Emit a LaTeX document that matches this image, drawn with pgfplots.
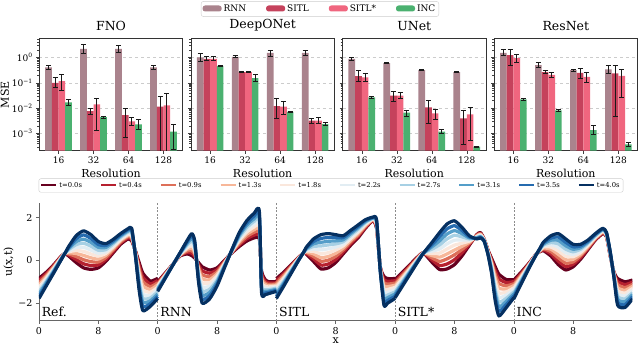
\documentclass[border=0pt]{standalone}
\usepackage{pgfplots}
\pgfplotsset{compat=1.18}
\usepackage{pgfplotstable}
\usepackage{fontspec}
\setmainfont{DejaVu Serif}

\definecolor{cR}{RGB}{170,131,141}
\definecolor{cS}{RGB}{197,66,92}
\definecolor{cP}{RGB}{240,102,127}
\definecolor{cI}{RGB}{75,177,112}
\definecolor{t0}{RGB}{103,0,31}
\definecolor{t1}{RGB}{182,32,47}
\definecolor{t2}{RGB}{221,111,89}
\definecolor{t3}{RGB}{247,183,153}
\definecolor{t4}{RGB}{250,231,220}
\definecolor{t5}{RGB}{226,237,243}
\definecolor{t6}{RGB}{167,208,228}
\definecolor{t7}{RGB}{84,158,201}
\definecolor{t8}{RGB}{37,107,175}
\definecolor{t9}{RGB}{5,48,97}

% MSE bars: value, lower and upper end of the error bar
\pgfplotstableread{
x r rl rh s sl sh p pl ph i il ih
0 0.41 0.346 0.50 0.10 0.0657 0.158 0.117 0.0516 0.213 0.017 0.0132 0.0228
1 2.2 1.43 3.24 0.0077 0.00586 0.0098 0.014 0.00137 0.0243 0.0044 0.00384 0.00489
2 2.2 1.52 3.05 0.0053 0.00071 0.0095 0.003 0.00203 0.0042 0.0023 0.0015 0.00361
3 0.41 0.346 0.50 0.0115 0.00001 0.030 0.013 0.00001 0.037 0.0012 0.000245 0.00223
}\fno
\pgfplotstableread{
x r rl rh s sl sh p pl ph i il ih
0 1.0 0.673 1.43 0.88 0.736 1.06 0.88 0.736 1.06 0.468 0.44 0.50
1 1.06 0.98 1.15 0.264 0.25 0.28 0.264 0.25 0.28 0.153 0.11 0.213
2 1.52 1.12 1.94 0.0121 0.00396 0.0243 0.0114 0.00569 0.019 0.0072 0.0069 0.0075
3 1.52 1.15 1.94 0.0032 0.00251 0.00396 0.0032 0.0025 0.0041 0.00234 0.00203 0.00267
}\deeponet
\pgfplotstableread{
x r rl rh s sl sh p pl ph i il ih
0 0.88 0.78 1.0 0.184 0.11 0.298 0.163 0.11 0.234 0.0265 0.025 0.028
1 0.597 0.58 0.615 0.0309 0.019 0.0471 0.0309 0.0235 0.0405 0.0066 0.00489 0.0084
2 0.316 0.305 0.327 0.0107 0.0025 0.0195 0.00622 0.00361 0.00923 0.00118 0.00096 0.00146
3 0.264 0.255 0.273 0.00396 0.000375 0.0079 0.00569 0.000522 0.0104 0.000303 0.00029 0.00032
}\unet
\pgfplotstableread{
x r rl rh s sl sh p pl ph i il ih
0 1.52 1.2 2.06 1.23 0.50 2.06 0.94 0.615 1.35 0.0221 0.0195 0.025
1 0.50 0.403 0.634 0.264 0.234 0.298 0.207 0.163 0.264 0.00817 0.0077 0.0087
2 0.316 0.29 0.345 0.248 0.149 0.368 0.173 0.103 0.256 0.00137 0.00092 0.00203
3 0.336 0.234 0.5 0.234 0.00489 0.5 0.189 0.0265 0.346 0.000375 0.000303 0.000449
}\resnet

% u(x,t) snapshots, panels side by side (Ref, RNN, SITL, SITL*, INC)
\pgfplotstableread{
x a0 a1 a2 a3 a4 a5 a6 a7 a8 a9
0 -0.84 -0.94 -1.05 -1.15 -1.26 -1.36 -1.47 -1.57 -1.68 -1.78
1 -0.55 -0.62 -0.69 -0.76 -0.83 -0.90 -0.97 -1.04 -1.11 -1.18
2 -0.20 -0.24 -0.28 -0.33 -0.37 -0.41 -0.45 -0.50 -0.54 -0.58
3 0.20 0.18 0.16 0.14 0.12 0.11 0.09 0.07 0.05 0.03
3.5 0.32 0.32 0.32 0.32 0.32 0.33 0.33 0.33 0.33 0.33
4 0.20 0.25 0.30 0.35 0.40 0.45 0.50 0.55 0.60 0.65
5 -0.10 0.04 0.18 0.32 0.46 0.59 0.73 0.87 1.01 1.15
6 -0.35 -0.16 0.03 0.23 0.42 0.61 0.80 0.99 1.19 1.38
7 -0.42 -0.24 -0.06 0.12 0.30 0.48 0.66 0.84 1.02 1.20
8 -0.35 -0.21 -0.08 0.06 0.20 0.33 0.47 0.61 0.74 0.88
9 -0.05 0.04 0.13 0.23 0.32 0.41 0.50 0.60 0.69 0.78
10 0.35 0.42 0.49 0.56 0.63 0.70 0.77 0.84 0.91 0.98
11 0.75 0.81 0.86 0.92 0.97 1.03 1.08 1.14 1.19 1.25
12 1.00 1.05 1.11 1.16 1.21 1.27 1.32 1.37 1.43 1.48
12.5 0.90 0.97 1.03 1.10 1.17 1.23 1.30 1.37 1.43 1.50
13 0.45 0.42 0.39 0.37 0.34 0.31 0.28 0.26 0.23 0.20
13.5 -0.10 -0.24 -0.39 -0.53 -0.68 -0.82 -0.97 -1.11 -1.26 -1.40
14 -0.60 -0.79 -0.99 -1.18 -1.38 -1.57 -1.77 -1.96 -2.16 -2.35
15 -0.97 -1.10 -1.23 -1.36 -1.49 -1.63 -1.76 -1.89 -2.02 -2.15
16 -0.84 -0.94 -1.05 -1.15 -1.26 -1.36 -1.47 -1.57 -1.68 -1.78
nan nan nan nan nan nan nan nan nan nan nan
16 -1.00 -1.05 -1.10 -1.15 -1.20 -1.25 -1.30 -1.35 -1.40 -1.45
17 -0.60 -0.63 -0.66 -0.68 -0.71 -0.74 -0.77 -0.79 -0.82 -0.85
18 -0.20 -0.21 -0.21 -0.22 -0.22 -0.23 -0.23 -0.24 -0.24 -0.25
19 0.20 0.22 0.23 0.25 0.27 0.28 0.30 0.32 0.33 0.35
20 0.30 0.37 0.44 0.52 0.59 0.66 0.73 0.81 0.88 0.95
20.6 0.22 0.33 0.45 0.56 0.68 0.79 0.91 1.02 1.14 1.25
21 0.10 0.19 0.28 0.37 0.46 0.54 0.63 0.72 0.81 0.90
21.5 -0.10 -0.20 -0.30 -0.40 -0.50 -0.60 -0.70 -0.80 -0.90 -1.00
22 -0.30 -0.49 -0.68 -0.87 -1.06 -1.24 -1.43 -1.62 -1.81 -2.00
23 -0.45 -0.60 -0.75 -0.90 -1.05 -1.20 -1.35 -1.50 -1.65 -1.80
24 -0.35 -0.44 -0.54 -0.63 -0.73 -0.82 -0.92 -1.01 -1.11 -1.20
25 0.00 -0.04 -0.08 -0.12 -0.16 -0.19 -0.23 -0.27 -0.31 -0.35
26 0.35 0.37 0.38 0.40 0.42 0.43 0.45 0.47 0.48 0.50
27 0.65 0.72 0.79 0.87 0.94 1.01 1.08 1.16 1.23 1.30
28 0.90 1.01 1.11 1.22 1.32 1.43 1.53 1.64 1.74 1.85
29 1.05 1.18 1.31 1.43 1.56 1.69 1.82 1.94 2.07 2.20
29.7 1.00 1.14 1.29 1.43 1.58 1.72 1.87 2.01 2.16 2.30
30 -0.50 -0.61 -0.72 -0.83 -0.94 -1.06 -1.17 -1.28 -1.39 -1.50
30.5 -0.90 -0.98 -1.06 -1.13 -1.21 -1.29 -1.37 -1.44 -1.52 -1.60
31 -1.00 -1.06 -1.12 -1.18 -1.24 -1.31 -1.37 -1.43 -1.49 -1.55
32 -1.00 -1.05 -1.10 -1.15 -1.20 -1.25 -1.30 -1.35 -1.40 -1.45
nan nan nan nan nan nan nan nan nan nan nan
32 -0.85 -0.95 -1.06 -1.16 -1.26 -1.37 -1.47 -1.57 -1.68 -1.78
33 -0.55 -0.62 -0.69 -0.77 -0.84 -0.91 -0.98 -1.06 -1.13 -1.20
34 -0.20 -0.24 -0.29 -0.33 -0.38 -0.42 -0.47 -0.51 -0.56 -0.60
35 0.15 0.13 0.12 0.10 0.08 0.07 0.05 0.03 0.02 0.00
35.7 0.35 0.36 0.36 0.37 0.37 0.38 0.38 0.39 0.39 0.40
36 0.30 0.33 0.37 0.40 0.43 0.47 0.50 0.53 0.57 0.60
37 -0.05 0.07 0.18 0.30 0.42 0.53 0.65 0.77 0.88 1.00
38 -0.40 -0.22 -0.04 0.13 0.31 0.49 0.67 0.84 1.02 1.20
39 -0.35 -0.17 0.01 0.18 0.36 0.54 0.72 0.89 1.07 1.25
40 -0.10 0.04 0.19 0.33 0.48 0.62 0.77 0.91 1.06 1.20
41 0.30 0.39 0.49 0.58 0.68 0.77 0.87 0.96 1.06 1.15
42 0.70 0.78 0.86 0.93 1.01 1.09 1.17 1.24 1.32 1.40
43 1.05 1.12 1.18 1.25 1.32 1.38 1.45 1.52 1.58 1.65
44 1.50 1.54 1.59 1.63 1.68 1.72 1.77 1.81 1.86 1.90
45 1.85 1.87 1.89 1.91 1.93 1.94 1.96 1.98 2.00 2.02
45.5 1.50 1.54 1.59 1.63 1.68 1.72 1.77 1.81 1.86 1.90
46 -0.30 -0.32 -0.34 -0.37 -0.39 -0.41 -0.43 -0.46 -0.48 -0.50
46.5 -0.75 -0.90 -1.05 -1.20 -1.35 -1.50 -1.65 -1.80 -1.95 -2.10
47 -0.85 -0.98 -1.11 -1.23 -1.36 -1.49 -1.62 -1.74 -1.87 -2.00
48 -0.85 -0.95 -1.06 -1.16 -1.26 -1.37 -1.47 -1.57 -1.68 -1.78
nan nan nan nan nan nan nan nan nan nan nan
48 -0.90 -0.99 -1.09 -1.18 -1.28 -1.37 -1.47 -1.56 -1.66 -1.75
49 -0.55 -0.62 -0.69 -0.77 -0.84 -0.91 -0.98 -1.06 -1.13 -1.20
50 -0.20 -0.25 -0.30 -0.35 -0.40 -0.45 -0.50 -0.55 -0.60 -0.65
51 0.15 0.12 0.09 0.07 0.04 0.01 -0.02 -0.04 -0.07 -0.10
51.8 0.35 0.35 0.35 0.34 0.34 0.34 0.34 0.33 0.33 0.33
53 -0.10 0.01 0.11 0.22 0.32 0.43 0.53 0.64 0.74 0.85
54 -0.43 -0.24 -0.05 0.15 0.34 0.53 0.72 0.91 1.11 1.30
55 -0.40 -0.17 0.07 0.30 0.53 0.77 1.00 1.23 1.47 1.70
56 -0.20 0.03 0.26 0.48 0.71 0.94 1.17 1.39 1.62 1.85
57 0.20 0.35 0.50 0.65 0.80 0.95 1.10 1.25 1.40 1.55
58 0.70 0.75 0.80 0.85 0.90 0.95 1.00 1.05 1.10 1.15
59 1.20 1.18 1.16 1.13 1.11 1.09 1.07 1.04 1.02 1.00
59.5 1.30 1.27 1.24 1.22 1.19 1.16 1.13 1.11 1.08 1.05
60 1.00 0.99 0.98 0.97 0.96 0.94 0.93 0.92 0.91 0.90
60.5 0.50 0.48 0.46 0.43 0.41 0.39 0.37 0.34 0.32 0.30
61 0.10 0.02 -0.06 -0.13 -0.21 -0.29 -0.37 -0.44 -0.52 -0.60
61.5 -0.30 -0.48 -0.66 -0.83 -1.01 -1.19 -1.37 -1.54 -1.72 -1.90
62 -0.65 -0.87 -1.08 -1.30 -1.52 -1.73 -1.95 -2.17 -2.38 -2.60
63 -0.90 -1.04 -1.19 -1.33 -1.48 -1.62 -1.77 -1.91 -2.06 -2.20
64 -0.90 -0.99 -1.09 -1.18 -1.28 -1.37 -1.47 -1.56 -1.66 -1.75
nan nan nan nan nan nan nan nan nan nan nan
64 -0.92 -1.02 -1.12 -1.21 -1.31 -1.41 -1.51 -1.60 -1.70 -1.80
65 -0.55 -0.61 -0.67 -0.73 -0.79 -0.86 -0.92 -0.98 -1.04 -1.10
66 -0.15 -0.18 -0.21 -0.23 -0.26 -0.29 -0.32 -0.34 -0.37 -0.40
67 0.28 0.28 0.27 0.27 0.27 0.26 0.26 0.26 0.25 0.25
67.5 0.40 0.42 0.43 0.45 0.47 0.48 0.50 0.52 0.53 0.55
68 0.45 0.49 0.54 0.58 0.63 0.67 0.72 0.76 0.81 0.85
69 0.20 0.31 0.41 0.52 0.62 0.73 0.83 0.94 1.04 1.15
70 -0.20 -0.04 0.12 0.28 0.44 0.61 0.77 0.93 1.09 1.25
71 -0.45 -0.29 -0.13 0.03 0.19 0.36 0.52 0.68 0.84 1.00
72 -0.30 -0.18 -0.07 0.05 0.17 0.28 0.40 0.52 0.63 0.75
73 0.05 0.13 0.21 0.28 0.36 0.44 0.52 0.59 0.67 0.75
74 0.50 0.55 0.60 0.65 0.70 0.75 0.80 0.85 0.90 0.95
75 0.95 0.98 1.02 1.05 1.08 1.12 1.15 1.18 1.22 1.25
76 1.25 1.28 1.31 1.33 1.36 1.39 1.42 1.44 1.47 1.50
76.5 1.10 1.12 1.14 1.17 1.19 1.21 1.23 1.26 1.28 1.30
77 0.20 0.22 0.24 0.27 0.29 0.31 0.33 0.36 0.38 0.40
77.5 -0.55 -0.58 -0.61 -0.63 -0.66 -0.69 -0.72 -0.74 -0.77 -0.80
78 -0.85 -0.99 -1.13 -1.27 -1.41 -1.54 -1.68 -1.82 -1.96 -2.10
79 -1.00 -1.13 -1.27 -1.40 -1.53 -1.67 -1.80 -1.93 -2.07 -2.20
80 -0.92 -1.02 -1.12 -1.21 -1.31 -1.41 -1.51 -1.60 -1.70 -1.80
}\sol

\newcommand{\barplots}[1]{%
  \addplot[fill=cR, draw=none, bar shift=-0.285, legend image code/.code={\fill[cR] (0pt,-2.5pt) rectangle (19pt,3.5pt);}] table[x=x,y=r,y error plus expr=\thisrow{rh}-\thisrow{r},y error minus expr=\thisrow{r}-\thisrow{rl}] {#1};
  \addplot[fill=cS, draw=none, bar shift=-0.095, legend image code/.code={\fill[cS] (0pt,-2.5pt) rectangle (19pt,3.5pt);}] table[x=x,y=s,y error plus expr=\thisrow{sh}-\thisrow{s},y error minus expr=\thisrow{s}-\thisrow{sl}] {#1};
  \addplot[fill=cP, draw=none, bar shift=0.095, legend image code/.code={\fill[cP] (0pt,-2.5pt) rectangle (19pt,3.5pt);}] table[x=x,y=p,y error plus expr=\thisrow{ph}-\thisrow{p},y error minus expr=\thisrow{p}-\thisrow{pl}] {#1};
  \addplot[fill=cI, draw=none, bar shift=0.285, legend image code/.code={\fill[cI] (0pt,-2.5pt) rectangle (19pt,3.5pt);}] table[x=x,y=i,y error plus expr=\thisrow{ih}-\thisrow{i},y error minus expr=\thisrow{i}-\thisrow{il}] {#1};
}

\begin{document}
\begin{tikzpicture}
\useasboundingbox (0,0) rectangle (640pt,346pt);

% ---------- FNO ----------
\begin{axis}[at={(39.3pt,195.3pt)}, anchor=south west, width=143.5pt, height=112.2pt, scale only axis,
    ymode=log, ymin=2.1e-4, ymax=5.6, log origin=infty,
    xmin=-0.55, xmax=3.55, xtick={0,1,2,3}, xticklabels={16,32,64,128},
    ytick={1e-3,1e-2,1e-1,1},
    minor ytick={3e-4,4e-4,5e-4,6e-4,7e-4,8e-4,9e-4,2e-3,3e-3,4e-3,5e-3,6e-3,7e-3,8e-3,9e-3,2e-2,3e-2,4e-2,5e-2,6e-2,7e-2,8e-2,9e-2,0.2,0.3,0.4,0.5,0.6,0.7,0.8,0.9,2,3,4,5},
    ybar, bar width=0.19,
    ymajorgrids, major grid style={dashed, black!20, line width=0.5pt},
    tick pos=left, tick align=outside, major tick length=3pt, minor tick length=1.8pt,
    tick style={black!75, line width=0.5pt},
    axis line style={black!80, line width=0.7pt},
    tick label style={font=\fontsize{9}{10}\selectfont},
    label style={font=\fontsize{11}{12}\selectfont},
    title style={font=\fontsize{12.5}{14}\selectfont, yshift=-2pt},
    xlabel={Resolution}, xlabel style={yshift=2pt},
    error bars/y dir=both, error bars/y explicit,
    error bars/error bar style={black!90, line width=1pt},
    error bars/error mark options={black!90, line width=1pt, mark size=2.5pt, rotate=90},
    title={FNO}, ylabel={MSE}, ylabel style={yshift=-4pt},
    yticklabels={10\textsuperscript{−3},10\textsuperscript{−2},10\textsuperscript{−1},10\textsuperscript{0}},
    legend entries={RNN,SITL,SITL*,INC},
    legend style={at={(1.956,1.263)}, anchor=center, legend columns=4,
      draw=black!20, rounded corners=2.5pt, font=\fontsize{9}{10}\selectfont,
      inner sep=1.5pt, /tikz/every even column/.append style={column sep=18pt}}]
\barplots{\fno}
\end{axis}

% ---------- DeepONet ----------
\begin{axis}[at={(190.9pt,195.3pt)}, anchor=south west, width=143.5pt, height=112.2pt, scale only axis,
    ymode=log, ymin=2.1e-4, ymax=5.6, log origin=infty,
    xmin=-0.55, xmax=3.55, xtick={0,1,2,3}, xticklabels={16,32,64,128},
    ytick={1e-3,1e-2,1e-1,1}, yticklabels={},
    minor ytick={3e-4,4e-4,5e-4,6e-4,7e-4,8e-4,9e-4,2e-3,3e-3,4e-3,5e-3,6e-3,7e-3,8e-3,9e-3,2e-2,3e-2,4e-2,5e-2,6e-2,7e-2,8e-2,9e-2,0.2,0.3,0.4,0.5,0.6,0.7,0.8,0.9,2,3,4,5},
    ybar, bar width=0.19,
    ymajorgrids, major grid style={dashed, black!20, line width=0.5pt},
    tick pos=left, tick align=outside, major tick length=3pt, minor tick length=1.8pt,
    tick style={black!75, line width=0.5pt},
    axis line style={black!80, line width=0.7pt},
    tick label style={font=\fontsize{9}{10}\selectfont},
    label style={font=\fontsize{11}{12}\selectfont},
    title style={font=\fontsize{12.5}{14}\selectfont, yshift=-2pt},
    xlabel={Resolution}, xlabel style={yshift=2pt},
    error bars/y dir=both, error bars/y explicit,
    error bars/error bar style={black!90, line width=1pt},
    error bars/error mark options={black!90, line width=1pt, mark size=2.5pt, rotate=90},
    title={DeepONet}]
\barplots{\deeponet}
\end{axis}

% ---------- UNet ----------
\begin{axis}[at={(342.5pt,195.3pt)}, anchor=south west, width=143.5pt, height=112.2pt, scale only axis,
    ymode=log, ymin=2.1e-4, ymax=5.6, log origin=infty,
    xmin=-0.55, xmax=3.55, xtick={0,1,2,3}, xticklabels={16,32,64,128},
    ytick={1e-3,1e-2,1e-1,1}, yticklabels={},
    minor ytick={3e-4,4e-4,5e-4,6e-4,7e-4,8e-4,9e-4,2e-3,3e-3,4e-3,5e-3,6e-3,7e-3,8e-3,9e-3,2e-2,3e-2,4e-2,5e-2,6e-2,7e-2,8e-2,9e-2,0.2,0.3,0.4,0.5,0.6,0.7,0.8,0.9,2,3,4,5},
    ybar, bar width=0.19,
    ymajorgrids, major grid style={dashed, black!20, line width=0.5pt},
    tick pos=left, tick align=outside, major tick length=3pt, minor tick length=1.8pt,
    tick style={black!75, line width=0.5pt},
    axis line style={black!80, line width=0.7pt},
    tick label style={font=\fontsize{9}{10}\selectfont},
    label style={font=\fontsize{11}{12}\selectfont},
    title style={font=\fontsize{12.5}{14}\selectfont, yshift=-2pt},
    xlabel={Resolution}, xlabel style={yshift=2pt},
    error bars/y dir=both, error bars/y explicit,
    error bars/error bar style={black!90, line width=1pt},
    error bars/error mark options={black!90, line width=1pt, mark size=2.5pt, rotate=90},
    title={UNet}]
\barplots{\unet}
\end{axis}

% ---------- ResNet ----------
\begin{axis}[at={(494.1pt,195.3pt)}, anchor=south west, width=143.5pt, height=112.2pt, scale only axis,
    ymode=log, ymin=2.1e-4, ymax=5.6, log origin=infty,
    xmin=-0.55, xmax=3.55, xtick={0,1,2,3}, xticklabels={16,32,64,128},
    ytick={1e-3,1e-2,1e-1,1}, yticklabels={},
    minor ytick={3e-4,4e-4,5e-4,6e-4,7e-4,8e-4,9e-4,2e-3,3e-3,4e-3,5e-3,6e-3,7e-3,8e-3,9e-3,2e-2,3e-2,4e-2,5e-2,6e-2,7e-2,8e-2,9e-2,0.2,0.3,0.4,0.5,0.6,0.7,0.8,0.9,2,3,4,5},
    ybar, bar width=0.19,
    ymajorgrids, major grid style={dashed, black!20, line width=0.5pt},
    tick pos=left, tick align=outside, major tick length=3pt, minor tick length=1.8pt,
    tick style={black!75, line width=0.5pt},
    axis line style={black!80, line width=0.7pt},
    tick label style={font=\fontsize{9}{10}\selectfont},
    label style={font=\fontsize{11}{12}\selectfont},
    title style={font=\fontsize{12.5}{14}\selectfont, yshift=-2pt},
    xlabel={Resolution}, xlabel style={yshift=2pt},
    error bars/y dir=both, error bars/y explicit,
    error bars/error bar style={black!90, line width=1pt},
    error bars/error mark options={black!90, line width=1pt, mark size=2.5pt, rotate=90},
    title={ResNet}]
\barplots{\resnet}
\end{axis}

% ---------- u(x,t) ----------
\begin{axis}[at={(39pt,25.3pt)}, anchor=south west, width=593.5pt, height=117.7pt, scale only axis,
  xmin=0, xmax=80, ymin=-2.82, ymax=2.68,
  axis x line*=bottom, axis y line*=left,
  axis line style={black!60, line width=0.7pt, -},
  xtick={0,8,...,72}, xticklabels={0,8,0,8,0,8,0,8,0,8},
  ytick={-2,0,2}, yticklabels={−2,0,2},
  tick align=outside, major tick length=3pt, tick style={black!60, line width=0.5pt},
  tick label style={font=\fontsize{9.5}{10}\selectfont},
  xlabel={x}, ylabel={u(x,t)}, label style={font=\fontsize{11}{12}\selectfont},
  xlabel style={yshift=3pt}, ylabel style={yshift=-2pt},
  unbounded coords=jump,
  legend columns=10,
  legend entries={{t=0.0s},{t=0.4s},{t=0.9s},{t=1.3s},{t=1.8s},{t=2.2s},{t=2.7s},{t=3.1s},{t=3.5s},{t=4.0s}},
  legend style={at={(0.492,1.149)}, anchor=center, draw=black!20, rounded corners=2pt,
    font=\fontsize{6.8}{8}\selectfont, inner sep=1.5pt,
    /tikz/every even column/.append style={column sep=16pt}},
  every axis plot/.append style={line width=3.2pt, line join=round, smooth, tension=0.35},
]
\draw[black!45, line width=0.5pt, dash pattern=on 2pt off 1.5pt] (axis cs:16,-2.82) -- (axis cs:16,2.68);
\draw[black!45, line width=0.5pt, dash pattern=on 2pt off 1.5pt] (axis cs:32,-2.82) -- (axis cs:32,2.68);
\draw[black!45, line width=0.5pt, dash pattern=on 2pt off 1.5pt] (axis cs:48,-2.82) -- (axis cs:48,2.68);
\draw[black!45, line width=0.5pt, dash pattern=on 2pt off 1.5pt] (axis cs:64,-2.82) -- (axis cs:64,2.68);
\addplot[t0, legend image code/.code={\draw[draw=t0, line width=2pt] (0pt,0pt) -- (15pt,0pt);}] table[x=x,y=a0] {\sol};
\addplot[t1, legend image code/.code={\draw[draw=t1, line width=2pt] (0pt,0pt) -- (15pt,0pt);}] table[x=x,y=a1] {\sol};
\addplot[t2, legend image code/.code={\draw[draw=t2, line width=2pt] (0pt,0pt) -- (15pt,0pt);}] table[x=x,y=a2] {\sol};
\addplot[t3, legend image code/.code={\draw[draw=t3, line width=2pt] (0pt,0pt) -- (15pt,0pt);}] table[x=x,y=a3] {\sol};
\addplot[t4, legend image code/.code={\draw[draw=t4, line width=2pt] (0pt,0pt) -- (15pt,0pt);}] table[x=x,y=a4] {\sol};
\addplot[t5, legend image code/.code={\draw[draw=t5, line width=2pt] (0pt,0pt) -- (15pt,0pt);}] table[x=x,y=a5] {\sol};
\addplot[t6, legend image code/.code={\draw[draw=t6, line width=2pt] (0pt,0pt) -- (15pt,0pt);}] table[x=x,y=a6] {\sol};
\addplot[t7, legend image code/.code={\draw[draw=t7, line width=2pt] (0pt,0pt) -- (15pt,0pt);}] table[x=x,y=a7] {\sol};
\addplot[t8, legend image code/.code={\draw[draw=t8, line width=2pt] (0pt,0pt) -- (15pt,0pt);}] table[x=x,y=a8] {\sol};
\addplot[t9, legend image code/.code={\draw[draw=t9, line width=2pt] (0pt,0pt) -- (15pt,0pt);}] table[x=x,y=a9] {\sol};
\node[anchor=base west, font=\fontsize{12.5}{14}\selectfont, inner sep=0pt] at (axis cs:0.35,-2.62) {Ref.};
\node[anchor=base west, font=\fontsize{12.5}{14}\selectfont, inner sep=0pt] at (axis cs:16.35,-2.62) {RNN};
\node[anchor=base west, font=\fontsize{12.5}{14}\selectfont, inner sep=0pt] at (axis cs:32.35,-2.62) {SITL};
\node[anchor=base west, font=\fontsize{12.5}{14}\selectfont, inner sep=0pt] at (axis cs:48.35,-2.62) {SITL*};
\node[anchor=base west, font=\fontsize{12.5}{14}\selectfont, inner sep=0pt] at (axis cs:64.35,-2.62) {INC};
\end{axis}
\end{tikzpicture}
\end{document}
